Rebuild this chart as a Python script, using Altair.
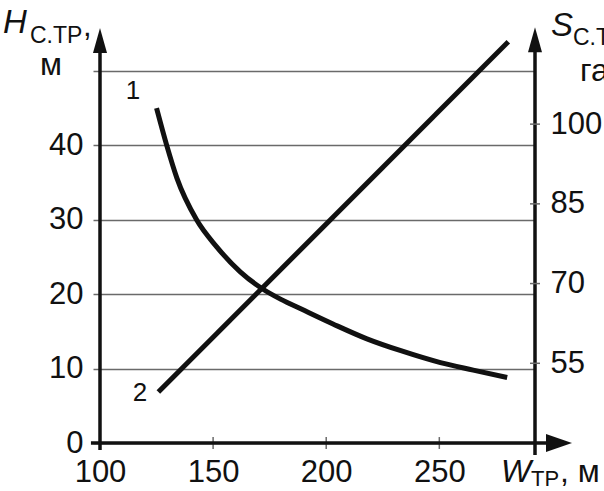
import altair as alt
import pandas as pd

# Curve 1: H_С.ТР (m) as a function of W_ТР (m)
w_curve = [125, 129.5, 134, 142.7, 151.5, 162, 171.4, 180, 189, 203, 218, 233, 250.5, 265, 280]
h_curve = [45, 40, 35.6, 30, 26.4, 23.0, 20.8, 19.3, 18.0, 16.0, 14.0, 12.4, 10.8, 9.8, 8.8]

# Line 2: S_С.ТР (ha) as a function of W_ТР (m)
w_line = [125.8, 280.5]
s_line = [49.6, 115.5]

# Axis ticks
w_ticks = [100, 150, 200, 250]
h_ticks = [0, 10, 20, 30, 40, 50]
s_ticks = [55, 70, 85, 100]

W_MIN, W_MAX = 100, 292.3      # the right-hand axis stands at W_MAX
H_MIN, H_MAX = 0, 50
S_MIN, S_MAX = 40, 110

FONT = "Liberation Sans"
INK = "#111111"
GRID = "#6a6a6a"

x_scale = alt.Scale(domain=[W_MIN, W_MAX], nice=False, zero=False)
h_scale = alt.Scale(domain=[H_MIN, H_MAX], nice=False, zero=False)
s_scale = alt.Scale(domain=[S_MIN, S_MAX], nice=False, zero=False)

x_axis = alt.Axis(values=w_ticks, title=None, grid=False, domain=False, ticks=False,
                  tickSize=0, labelFont=FONT, labelFontSize=31, labelColor=INK,
                  labelPadding=14, labelFlush=False, labelOverlap=False)
h_axis = alt.Axis(values=h_ticks, title=None, grid=True, gridColor=GRID, gridWidth=1.5,
                  domain=False, ticks=True, tickSize=7, tickColor=GRID, tickWidth=1.5,
                  labelExpr="datum.value == 50 ? '' : datum.label",
                  labelFont=FONT, labelFontSize=31, labelColor=INK, labelPadding=10)
s_axis = alt.Axis(values=s_ticks, orient="right", title=None, grid=False, domain=False,
                  ticks=False, tickSize=0, labelFont=FONT, labelFontSize=31,
                  labelColor=INK, labelPadding=15)


def X(field):
    return alt.X(field, type="quantitative", scale=x_scale, axis=x_axis)


def YH(field):
    return alt.Y(field, type="quantitative", scale=h_scale, axis=h_axis)


def YS(field):
    return alt.Y(field, type="quantitative", scale=s_scale, axis=s_axis)


curve_df = pd.DataFrame({"W": w_curve, "H": h_curve})
line_df = pd.DataFrame({"W": w_line, "S": s_line})

# grid + left axis labels, carried by an invisible layer over the H ticks
grid_layer = alt.Chart(pd.DataFrame({"W": [W_MIN] * len(h_ticks), "H": h_ticks})).mark_point(
    opacity=0).encode(x=X("W"), y=YH("H"))

curve = alt.Chart(curve_df).mark_line(
    color=INK, strokeWidth=5, interpolate="monotone", strokeCap="butt").encode(
    x=X("W"), y=YH("H"))

# axis lines
axes_df = pd.DataFrame({
    "x1": [W_MIN, W_MAX, 96.0],
    "x2": [W_MIN, W_MAX, 297.5],
    "y1": [-0.95, -1.6, 0.0],
    "y2": [53.0, 53.0, 0.0],
})
axis_lines = alt.Chart(axes_df).mark_rule(color=INK, strokeWidth=3.5).encode(
    x=X("x1"), x2="x2", y=YH("y1"), y2="y2")

# x ticks crossing the horizontal axis
xtick_df = pd.DataFrame({"W": w_ticks, "lo": [-0.8] * 4, "hi": [0.8] * 4})
x_ticks = alt.Chart(xtick_df).mark_rule(color=GRID, strokeWidth=1.5).encode(
    x=X("W"), y=YH("lo"), y2="hi")

# arrow heads
up_df = pd.DataFrame({"W": [W_MIN, W_MAX], "H": [54.1, 54.2]})
up_arrows = alt.Chart(up_df).mark_point(
    shape="M0,-1L0.56,1L-0.56,1Z", size=625, filled=True, color=INK,
    opacity=1, strokeWidth=0).encode(x=X("W"), y=YH("H"))
right_df = pd.DataFrame({"W": [302.9], "H": [0.0]})
right_arrow = alt.Chart(right_df).mark_point(
    shape="M1,0L-1,0.7L-1,-0.7Z", size=676, filled=True, color=INK,
    opacity=1, strokeWidth=0).encode(x=X("W"), y=YH("H"))

# curve numbers
num_df = pd.DataFrame({"W": [114.6, 117.7], "H": [47.3, 6.7], "t": ["1", "2"]})
numbers = alt.Chart(num_df).mark_text(
    font=FONT, fontSize=26, color=INK, baseline="middle", align="center").encode(
    x=X("W"), y=YH("H"), text="t:N")

one = pd.DataFrame({"k": [0]})


def note(txt, x, y, size, italic=False, align="left"):
    return alt.Chart(one).mark_text(
        text=txt, font=FONT, fontSize=size, color=INK, align=align,
        baseline="alphabetic", fontStyle="italic" if italic else "normal").encode(
        x=alt.value(x), y=alt.value(y))


titles = [
    note("H", -97, -38, 33, italic=True),
    note("С.ТР", -70, -28, 23),
    note(",", -17, -35, 31),
    note("м", -49, 4, 32, align="center"),
    note("S", 451, -35, 33, italic=True),
    note("С.ТР,", 473, -26, 23),
    note("га", 480, 10, 32),
    note("W", 401, 411, 32, italic=True),
    note("ТР", 431, 415, 22),
    note(", м", 460, 411, 32),
]

left_group = alt.layer(grid_layer, curve, x_ticks, axis_lines, up_arrows,
                       right_arrow, numbers, *titles)

# right-hand S scale: line 2 and the ticks crossing the right axis
stick_df = pd.DataFrame({"a": [W_MAX - 2.2] * 4, "b": [W_MAX + 2.2] * 4, "S": s_ticks})
s_ticks_layer = alt.Chart(stick_df).mark_rule(color=GRID, strokeWidth=1.5).encode(
    x=X("a"), x2="b", y=YS("S"))
line2 = alt.Chart(line_df).mark_line(color=INK, strokeWidth=5, strokeCap="butt").encode(
    x=X("W"), y=YS("S"))

right_group = alt.layer(s_ticks_layer, line2)

chart = alt.layer(left_group, right_group).resolve_scale(y="independent").properties(
    width=435, height=372,
    autosize=alt.AutoSizeParams(type="none"),
    padding={"left": 100, "top": 71, "right": 69, "bottom": 48},
    background="white",
).configure_view(stroke=None)

chart.save("out.html", embed_options={"renderer": "svg", "actions": False})
